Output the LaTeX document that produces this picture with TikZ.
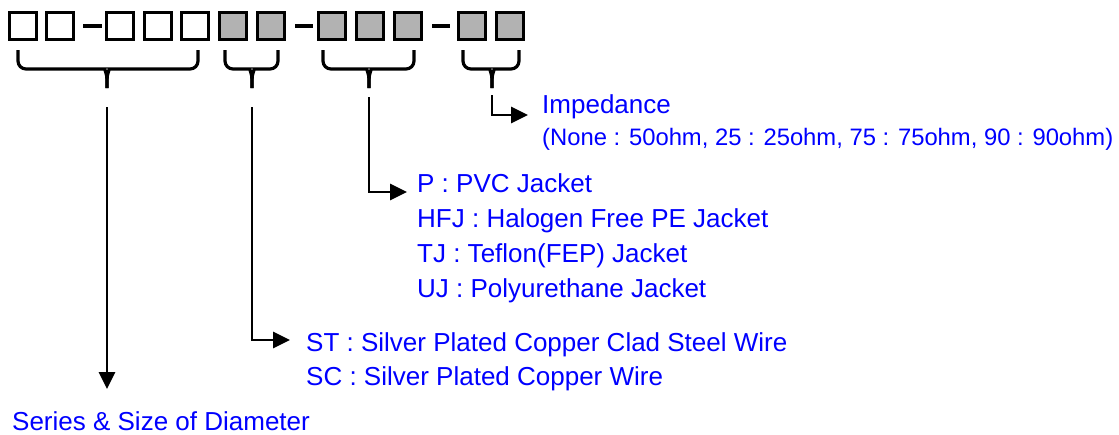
\documentclass[tikz,border=0pt]{standalone}
\usepackage{fontspec}
\setmainfont{Liberation Sans}
\usetikzlibrary{arrows.meta}
\definecolor{txtblue}{RGB}{0,0,255}
\definecolor{boxgray}{RGB}{178,178,178}
% left end, right end, tip x
\newcommand\mybrace[3]{%
  \draw[bracepath] (#1,50) [rounded corners=8pt] |- (#3-10,69) [sharp corners]
     .. controls (#3-3,69) and (#3,73) .. (#3,80) -- (#3,88);
  \draw[bracepath] (#2,50) [rounded corners=8pt] |- (#3+10,69) [sharp corners]
     .. controls (#3+3,69) and (#3,73) .. (#3,80) -- (#3,88);
}
\begin{document}
\begin{tikzpicture}[x=1pt,y=-1pt,
  cell/.style={draw=black,line width=3.2pt,minimum size=27pt,inner sep=0pt,fill=white},
  graycell/.style={cell,fill=boxgray},
  hyph/.style={line width=3.8pt},
  bracepath/.style={line width=3.2pt},
  conn/.style={line width=2.8pt,-{Triangle[length=17pt,width=16pt]}},
  lbl/.style={anchor=base west,inner sep=0pt,text=txtblue,font=\fontsize{26}{30}\selectfont},
  lblsmall/.style={lbl,font=\fontsize{23.8}{28}\selectfont}]
\useasboundingbox (0,0) rectangle (1119,434);

% code boxes
\node[cell] (b1) at (23,26) {};
\node[cell] (b2) at (60,26) {};
\node[cell] (b3) at (120,26) {};
\node[cell] (b4) at (158,26) {};
\node[cell] (b5) at (195,26) {};
\node[graycell] (b6) at (233,26) {};
\node[graycell] (b7) at (271,26) {};
\node[graycell] (b8) at (332,26) {};
\node[graycell] (b9) at (370,26) {};
\node[graycell] (b10) at (408,26) {};
\node[graycell] (b11) at (472,26) {};
\node[graycell] (b12) at (510,26) {};

% hyphens
\draw[hyph] (83,26) -- (102,26);
\draw[hyph] (295,26) -- (313,26);
\draw[hyph] (432,26) -- (450,26);

% braces
\mybrace{18}{198}{107}
\mybrace{225}{278}{252}
\mybrace{323}{414}{369}
\mybrace{463}{519}{492}

% labels
\node[lbl] (imp) at (542,113) {Impedance};
\node[lblsmall] (impv) at (542,145) {(None : 50ohm, 25 : 25ohm, 75 : 75ohm, 90 : 90ohm)};
\node[lbl] (jp) at (417,192) {P : PVC Jacket};
\node[lbl] (jh) at (417,227) {HFJ : Halogen Free PE Jacket};
\node[lbl] (jt) at (417,262) {TJ : Teflon(FEP) Jacket};
\node[lbl] (ju) at (417,297) {UJ : Polyurethane Jacket};
\node[lbl] (wst) at (306,351) {ST : Silver Plated Copper Clad Steel Wire};
\node[lbl] (wsc) at (306,385) {SC : Silver Plated Copper Wire};
\node[lbl,text depth=0pt] (ser) at (12,430) {Series \& Size of Diameter};

% connectors
\coordinate (s1) at (107,107);
\coordinate (e1) at (107,389);
\coordinate (s2) at (252,107);
\coordinate (e2) at (290,340);
\coordinate (s3) at (369,97);
\coordinate (e3) at (407,192);
\coordinate (s4) at (492,95);
\coordinate (e4) at (528,115);
\draw[conn] (s1) -- (e1);
\draw[conn] (s2) |- (e2);
\draw[conn] (s3) |- (e3);
\draw[conn] (s4) |- (e4);
\end{tikzpicture}
\end{document}
